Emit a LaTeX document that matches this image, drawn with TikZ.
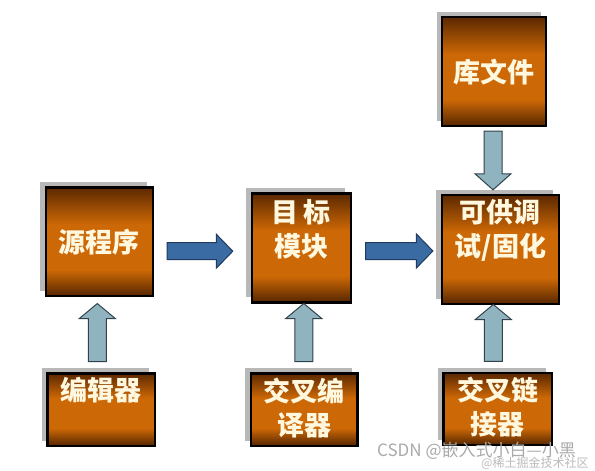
\documentclass[tikz,border=0pt]{standalone}
\usepackage{fontspec}
\newfontfamily\cjk{Noto Sans CJK SC}
\usetikzlibrary{calc,shadows}
\definecolor{bdark}{RGB}{92,40,0}
\definecolor{bdarkb}{RGB}{85,38,0}
\definecolor{bmid}{RGB}{204,104,6}
\definecolor{txtc}{RGB}{255,247,222}
\definecolor{shadowg}{RGB}{184,184,184}
\definecolor{bluef}{RGB}{58,108,163}
\definecolor{bluel}{RGB}{32,58,96}
\definecolor{lightf}{RGB}{143,180,192}
\definecolor{lightl}{RGB}{50,66,76}
\definecolor{wmark}{RGB}{170,170,170}
\pgfdeclareverticalshading{boxshade}{100bp}{color(0bp)=(bdarkb); color(25bp)=(bdarkb); color(37bp)=(bmid); color(58bp)=(bmid); color(75bp)=(bdark); color(100bp)=(bdark)}
\tikzset{
  box/.style={draw=black, line width=2.4pt, shading=boxshade, inner sep=0pt,
    drop shadow={shadow xshift=-5.5pt, shadow yshift=5pt, fill=shadowg, opacity=1}},
  lbl/.style={text=txtc, font=\cjk\bfseries\fontsize{27}{34}\selectfont, align=center, inner sep=0pt},
  bigarrow/.style={fill=bluef, draw=bluel, line width=1pt, line join=miter},
  smallarrow/.style={fill=lightf, draw=lightl, line width=1pt, line join=miter},
  wm/.style={text=wmark, inner sep=0pt, anchor=west}
}
% horizontal block arrow: style, start point, tip point
\newcommand\hblock[3]{\draw[#1] let \p1=#2, \p2=#3 in
  (\x1,\y1+8.5pt) -- (\x2-16.5pt,\y1+8.5pt) -- (\x2-16.5pt,\y1+17pt) -- (\x2,\y1)
  -- (\x2-16.5pt,\y1-17pt) -- (\x2-16.5pt,\y1-8.5pt) -- (\x1,\y1-8.5pt) -- cycle;}
% vertical block arrow: style, start point, tip point, signed head length
\newcommand\vblock[4]{\draw[#1] let \p1=#2, \p2=#3 in
  (\x1-9pt,\y1) -- (\x1-9pt,\y2-#4) -- (\x1-18pt,\y2-#4) -- (\x1,\y2)
  -- (\x1+18pt,\y2-#4) -- (\x1+9pt,\y2-#4) -- (\x1+9pt,\y1) -- cycle;}
\begin{document}
\begin{tikzpicture}[x=1pt,y=-1pt]
\useasboundingbox[fill=white] (0,0) rectangle (595,471);
% boxes
\node[box, minimum width=104pt, minimum height=109pt] (lib) at (494,71.5) {};
\node[box, minimum width=107pt, minimum height=108.7pt] (src) at (99.2,241.7) {};
\node[box, minimum width=99pt, minimum height=109pt] (obj) at (301.2,247.8) {};
\node[box, minimum width=117pt, minimum height=109pt] (dbg) at (500.3,249.5) {};
\node[box, minimum width=107.3pt, minimum height=72.4pt] (edt) at (101.3,409.5) {};
\node[box, minimum width=106.6pt, minimum height=72.4pt] (ccp) at (304,409.5) {};
\node[box, minimum width=108.4pt, minimum height=72pt] (lnk) at (497.5,409.2) {};
% texts
\node[lbl] (libT) at ($(lib.center)+(0,0.2)$) {库文件};
\node[lbl] (srcT) at ($(src.center)+(0,0.3)$) {源程序};
\node[lbl] (objT) at ($(obj.north)+(0,37.5)$) {目\,标\\模块};
\node[lbl] (dbgT) at ($(dbg.north)+(0,36.7)$) {可供调\\试/固化};
\node[lbl] (edtT) at ($(edt.north)+(0,18.4)$) {编辑器};
\node[lbl] (ccpT) at ($(ccp.north)+(0,35.8)$) {交叉编\\译器};
\node[lbl] (lnkT) at ($(lnk.north)+(0,35)$) {交叉链\\接器};
% horizontal arrows
\hblock{bigarrow}{($(src.east)+(13.3,9.5)$)}{($(obj.west)+(-17.7,9.5)$)}
\hblock{bigarrow}{($(obj.east)+(13.6,3.2)$)}{($(dbg.west)+(-7.7,1.2)$)}
% vertical arrows
\vblock{smallarrow}{($(lib.south)+(-1,4)$)}{($(dbg.north)+(-7,-4)$)}{-16pt}
\vblock{smallarrow}{($(edt.north)+(-4,-10.6)$)}{($(src.south)+(-2,6.3)$)}{15pt}
\vblock{smallarrow}{($(ccp.north)+(-0.2,-10.6)$)}{($(obj.south)+(2.6,0)$)}{15pt}
\vblock{smallarrow}{($(lnk.north)+(-4.2,-10.6)$)}{($(dbg.south)+(-7,-0.7)$)}{15pt}
% watermark
\node[wm, font=\cjk\fontsize{17}{20}\selectfont] (wm1) at (377,450.5) {CSDN @嵌入式小白—小黑};
\node[wm, font=\cjk\fontsize{12}{14}\selectfont, text=wmark!80] (wm2) at (481,463.5) {@稀土掘金技术社区};
\end{tikzpicture}
\end{document}
